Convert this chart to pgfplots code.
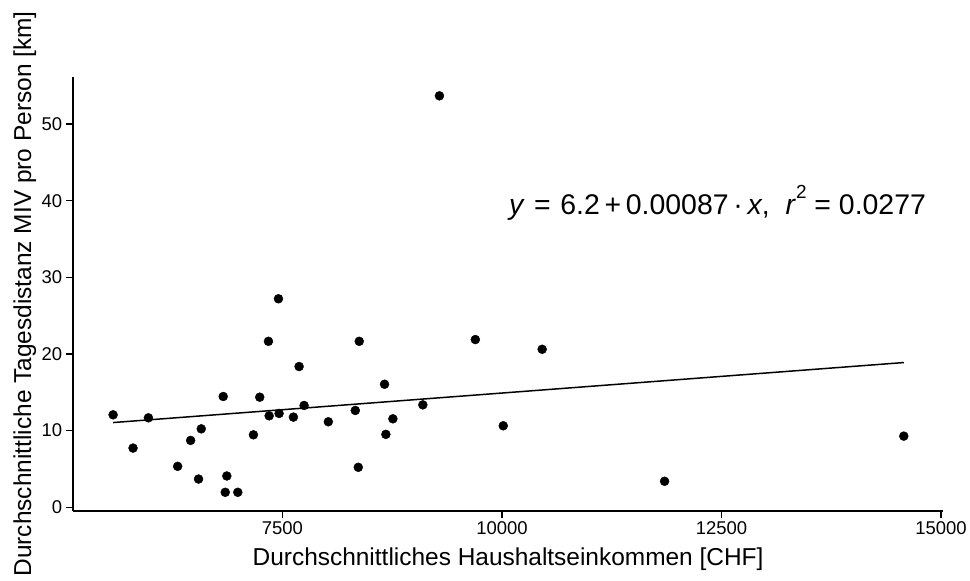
\documentclass[border=0pt]{standalone}
\usepackage{fontspec}
\setmainfont{Liberation Sans}
\usepackage{pgfplots}
\pgfplotsset{compat=1.18}
\usepackage{pgfplotstable}

% Household income [CHF] vs. mean daily car distance per person [km]
\pgfplotstableread{
inc   dist
5572  12.06
5799  7.72
5974  11.67
6307  5.34
6455  8.72
6576  10.23
6545  3.68
6826  14.45
6867  4.08
6849  1.95
6992  1.95
7170  9.45
7242  14.36
7341  21.65
7349  11.93
7455  27.2
7462  12.24
7690  18.36
7625  11.76
7747  13.28
8023  11.15
8330  12.63
8375  21.65
8364  5.21
8663  16.05
8678  9.51
8758  11.54
9099  13.36
9288  53.68
9697  21.88
10015 10.63
10458 20.61
11852 3.39
14576 9.28
}\datatable

\begin{document}
\begin{tikzpicture}
\begin{axis}[
  name=ax,
  scale only axis,
  width=871.7pt, height=435pt,
  xmin=5117, xmax=15023,
  ymin=-0.48, ymax=56.16,
  axis lines*=left,
  axis line style={-, line width=1.4pt, black},
  every tick/.style={line width=1.4pt, black},
  tick align=outside,
  major tick length=7.5pt,
  scaled ticks=false,
  xtick={7500,10000,12500,15000},
  ytick={0,10,20,30,40,50},
  xticklabels={7500,10000,12500,15000},
  /pgf/number format/assume math mode=true,
  /pgf/number format/1000 sep={},
  ticklabel style={font=\fontsize{18.5}{22}\selectfont, text=black},
  xlabel={Durchschnittliches Haushaltseinkommen [CHF]},
  ylabel={Durchschnittliche Tagesdistanz MIV pro Person [km]},
  label style={font=\fontsize{24.5}{28}\selectfont},
  xlabel style={at={(rel axis cs:0.5,-0.126)}, anchor=base},
  ylabel style={at={(rel axis cs:-0.0482,0.5)}, anchor=base},
  clip=false,
]
\addplot[only marks, mark=*, mark size=4.5pt, black] table[x=inc, y=dist] {\datatable};
% least-squares fit y = 6.2 + 0.00087 x over the observed income range
\addplot[black, line width=1.5pt] coordinates {(5572,11.05) (14576,18.88)};
\node[anchor=base, font=\fontsize{28.5}{32}\selectfont] at (axis cs:12455,38.2)
  {\textit{y}\,\,=\,\,6.2\,+\,0.00087\,·\,\textit{x},\ \ \textit{r}\raisebox{0.55em}{\fontsize{19}{20}\selectfont 2} = 0.0277};
\end{axis}
\path[use as bounding box] ([shift={(-73.3pt,-70pt)}]ax.south west) rectangle ([shift={(25pt,77pt)}]ax.north east);
\end{tikzpicture}
\end{document}
